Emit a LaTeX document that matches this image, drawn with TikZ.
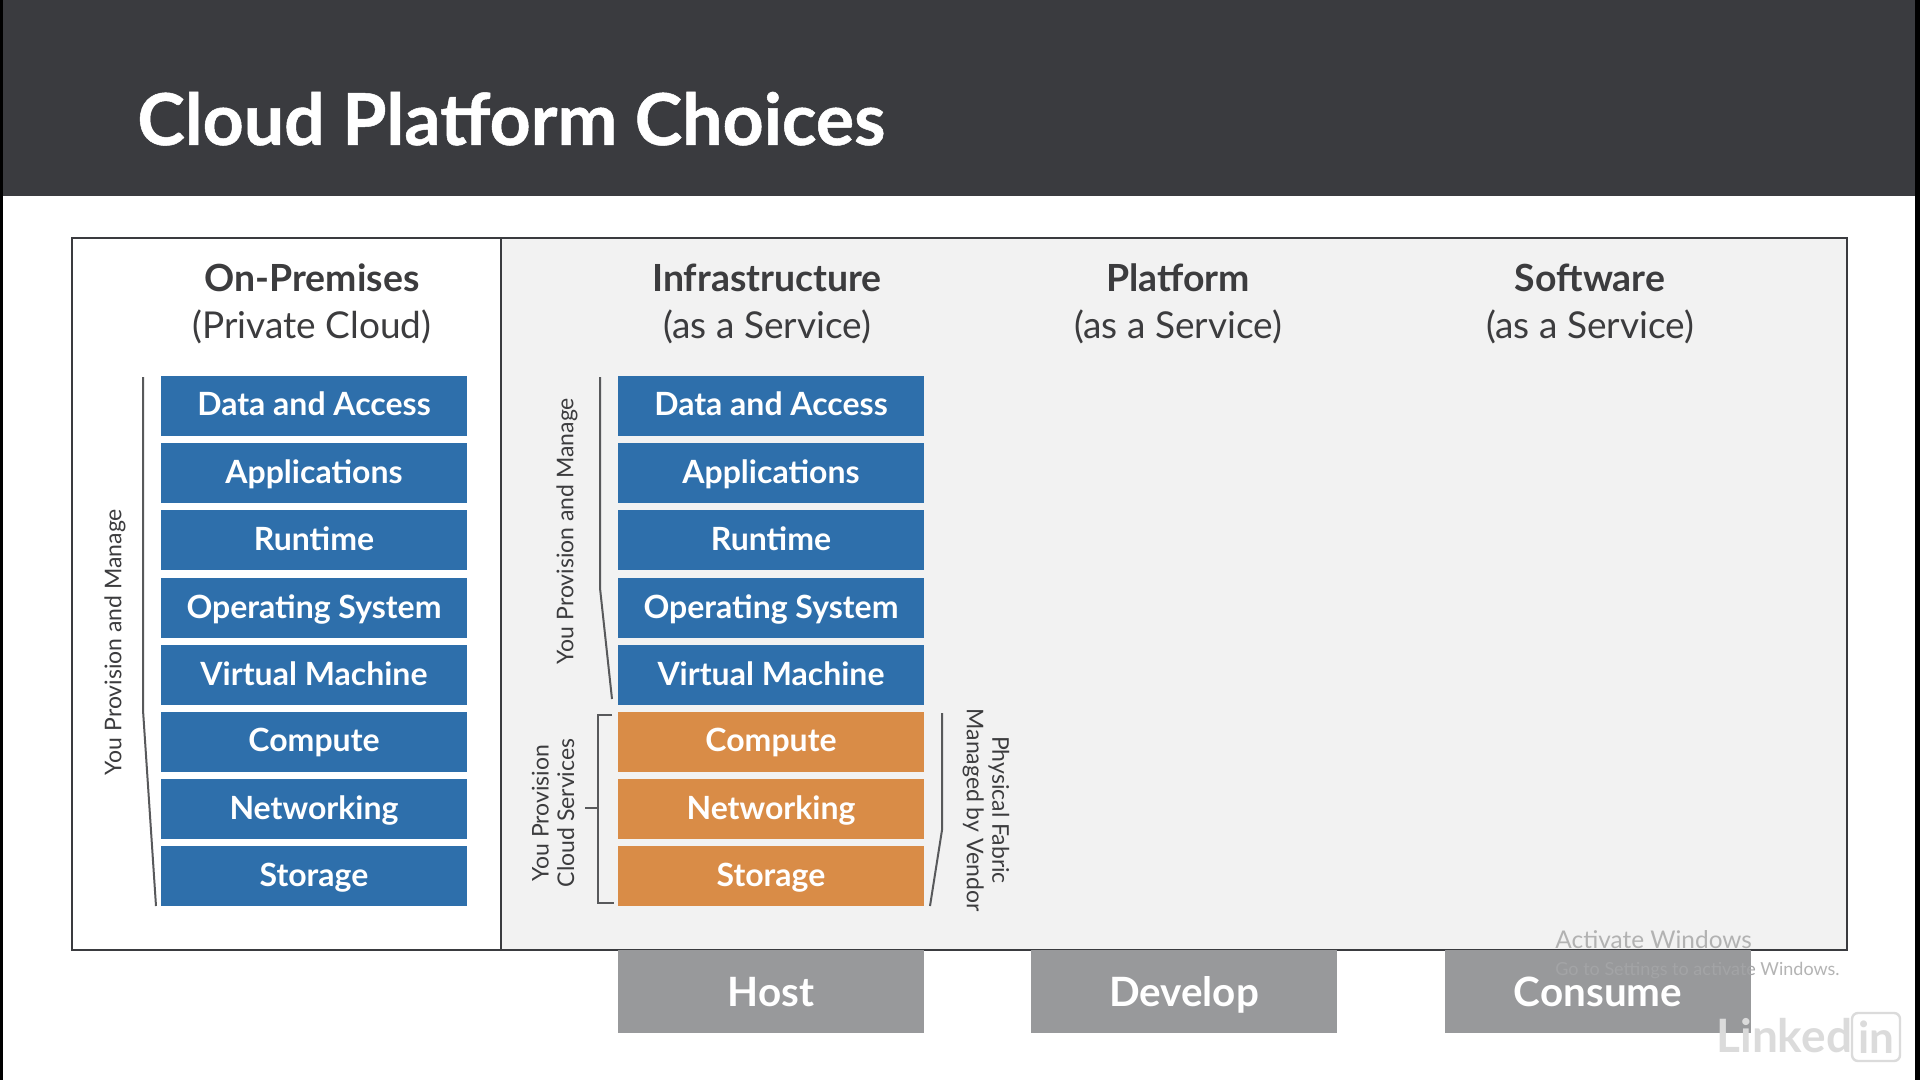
\documentclass[tikz,border=0pt]{standalone}
\usepackage{fontspec}
\setmainfont{Lato}
\newfontfamily\titlefont{Lato}[BoldFeatures={FakeBold=0.7}]
\definecolor{hdr}{HTML}{3A3B3F}
\definecolor{ink}{HTML}{3C3C3E}
\definecolor{bluebox}{HTML}{2E6FAB}
\definecolor{orangebox}{HTML}{D98C47}
\definecolor{greybox}{HTML}{98999B}
\definecolor{panel}{HTML}{F2F2F2}
\definecolor{rule}{HTML}{58595B}
\definecolor{faint}{HTML}{A3A4A6}
\definecolor{wm}{HTML}{B4B4B4}
\tikzset{
  layer/.style={minimum width=153pt,minimum height=30pt,inner sep=0pt,text height=13pt,text depth=3pt,text=white,font=\fontsize{16}{16}\selectfont\bfseries},
  bluelayer/.style={layer,fill=bluebox},
  orangelayer/.style={layer,fill=orangebox},
  action/.style={minimum width=153pt,minimum height=41.5pt,inner sep=0pt,text height=18pt,text depth=3pt,fill=greybox,text=white,font=\fontsize{20.2}{20.2}\selectfont\bfseries},
  colhead/.style={align=center,text=ink,inner sep=0pt,font=\fontsize{18.5}{23.5}\selectfont},
  sidelabel/.style={align=center,text=ink,inner sep=0pt,font=\fontsize{11.5}{12.8}\selectfont},
  bracket/.style={draw=rule,line width=1pt},
  framing/.style={draw=hdr,line width=1.35pt},
}
\begin{document}
\begin{tikzpicture}[x=0.5pt,y=-0.5pt]
\useasboundingbox (0,0) rectangle (1920,1080);
\fill[white] (0,0) rectangle (1920,1080);
\fill[black] (0,0) rectangle (3,1080);
\fill[black] (1915,0) rectangle (1920,1080);
\fill[hdr] (3,0) rectangle (1915,196);
\node[anchor=base west,inner sep=0pt,text=white,font=\fontsize{35.8}{36}\selectfont\titlefont\bfseries] (title) at (137,145) {Cloud Platform Choices};

% frame
\fill[panel] (501,238) rectangle (1847,950);
\draw[framing] (72,238) rectangle (1847,950);
\coordinate (divT) at (501,238);
\coordinate (divB) at (501,950);
\draw[framing] (divT) -- (divB);

% column heads
\node[colhead] (h1) at (312,304) {{\fontsize{18.7}{23.5}\selectfont\bfseries On-Premises}\\(Private Cloud)};
\node[colhead] (h2) at (767,304) {{\fontsize{18.7}{23.5}\selectfont\bfseries Infrastructure}\\(as a Service)};
\node[colhead] (h3) at (1178,304) {{\fontsize{18.7}{23.5}\selectfont\bfseries Platform}\\(as a Service)};
\node[colhead] (h4) at (1590,304) {{\fontsize{18.7}{23.5}\selectfont\bfseries Software}\\(as a Service)};

% left stack
\node[bluelayer] (a1) at (314,405.5) {Data and Access};
\node[bluelayer] (a2) at (314,473) {Applications};
\node[bluelayer] (a3) at (314,540) {Runtime};
\node[bluelayer] (a4) at (314,608) {Operating System};
\node[bluelayer] (a5) at (314,675) {Virtual Machine};
\node[bluelayer] (a6) at (314,741.5) {Compute};
\node[bluelayer] (a7) at (314,809) {Networking};
\node[bluelayer] (a8) at (314,876) {Storage};

% middle stack
\node[bluelayer] (b1) at (771,405.5) {Data and Access};
\node[bluelayer] (b2) at (771,473) {Applications};
\node[bluelayer] (b3) at (771,540) {Runtime};
\node[bluelayer] (b4) at (771,608) {Operating System};
\node[bluelayer] (b5) at (771,675) {Virtual Machine};
\node[orangelayer] (b6) at (771,741.5) {Compute};
\node[orangelayer] (b7) at (771,809) {Networking};
\node[orangelayer] (b8) at (771,876) {Storage};

% action boxes
\node[action] (host) at (771,991.5) {Host};
\node[action] (develop) at (1184,991.5) {Develop};
\node[action] (consume) at (1598,991.5) {Consume};

% left rule
\coordinate (p1) at (143,377);
\coordinate (p2) at (143,710);
\coordinate (p3) at (156,906);
\draw[bracket] (p1) -- (p2) -- (p3);
\node[sidelabel,rotate=90] (l1) at (115,642) {You Provision and Manage};

% middle rule
\coordinate (q1) at (600,377);
\coordinate (q2) at (600,588);
\coordinate (q3) at (612,699);
\draw[bracket] (q1) -- (q2) -- (q3);
\node[sidelabel,rotate=90] (l2) at (567,531) {You Provision and Manage};

% bracket
\coordinate (r1) at (612,715);
\coordinate (r2) at (598,715);
\coordinate (r3) at (598,903);
\coordinate (r4) at (614,903);
\coordinate (r5) at (585,808);
\coordinate (r6) at (598,808);
\draw[bracket] (r1) -- (r2) -- (r3) -- (r4);
\draw[bracket] (r5) -- (r6);
\node[sidelabel,rotate=90] (l3) at (553,813) {You Provision\\Cloud Services};

% right rule
\coordinate (s1) at (942,713);
\coordinate (s2) at (942,830);
\coordinate (s3) at (930,906);
\draw[bracket] (s1) -- (s2) -- (s3);
\node[sidelabel,rotate=-90] (l4) at (986,810) {Physical Fabric\\Managed by Vendor};

% watermarks
\node[anchor=base west,inner sep=0pt,text=black!30,font=\fontsize{12.2}{12.2}\selectfont] (w1) at (1555,948) {Activate Windows};
\node[anchor=base west,inner sep=0pt,text=faint,font=\fontsize{9}{9}\selectfont] (w2) at (1555,975) {Go to Settings to activate \textcolor{wm}{Windows.}};
\node[anchor=base west,inner sep=0pt,text=black!14,font=\fontsize{23}{23}\selectfont\bfseries] (w3) at (1716,1052) {Linked};
\node[draw=black!14,line width=1.2pt,rounded corners=3pt,minimum width=24pt,minimum height=24pt,inner sep=0pt,text=black!14,font=\fontsize{22}{22}\selectfont\bfseries] (w4) at (1876,1037) {in};
\end{tikzpicture}
\end{document}
